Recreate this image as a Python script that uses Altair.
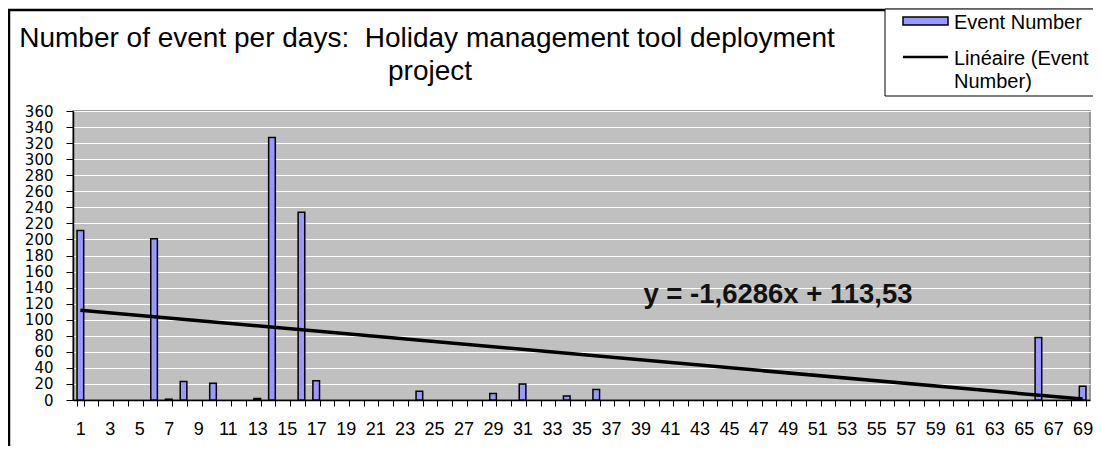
import altair as alt
import pandas as pd

# ---- data ----
days = list(range(1, 70))
events = [
    211, 0, 0, 0, 0, 201, 1, 23, 0, 21,
    0, 0, 2, 327, 0, 234, 24, 0, 0, 0,
    0, 0, 0, 11, 0, 0, 0, 0, 8, 0,
    20, 0, 0, 5, 0, 13, 0, 0, 0, 0,
    0, 0, 0, 0, 0, 0, 0, 0, 0, 0,
    0, 0, 0, 0, 0, 0, 0, 0, 0, 0,
    0, 0, 0, 0, 0, 78, 0, 0, 17,
]
trend_days = [1, 69]
trend_values = [111.9, 1.16]
y_ticks = [0, 20, 40, 60, 80, 100, 120, 140, 160, 180, 200, 220, 240, 260, 280, 300, 320, 340, 360]

title_line1 = "Number of event per days:\u00a0 Holiday management tool deployment"
title_line2 = "project"
equation = "y = -1,6286x + 113,53"
legend_bar = "Event\u00a0Number"
legend_line1 = "Linéaire (Event"
legend_line2 = "Number)"

FONT = "Liberation Sans"

bars_df = pd.DataFrame({"day": days, "events": events})
trend_df = pd.DataFrame({"day": trend_days, "value": trend_values})
one = pd.DataFrame({"k": [0]})

x_scale = alt.Scale(domain=days, paddingInner=0.55, paddingOuter=0.275)
y_scale = alt.Scale(domain=[0, 360], nice=False)

x_axis = alt.Axis(
    title=None, tickBand="extent", labelAngle=0, labelOverlap=False,
    labelExpr="datum.value % 2 == 1 ? datum.label : ''",
    labelFont=FONT, labelFontSize=18, labelColor="black", labelPadding=14,
    tickSize=6, tickColor="black", domainColor="black", domainWidth=1.5,
    grid=False,
)
y_axis = alt.Axis(
    title=None, values=y_ticks, labelOverlap=False, labelFont="DejaVu Sans",
    labelFontSize=15, labelColor="black", labelPadding=13, tickSize=7,
    tickColor="black", domainColor="black", domainWidth=1.5, grid=True,
    gridColor="white", gridWidth=1.2, labelBaseline="middle",
)

bars = alt.Chart(bars_df).transform_filter("datum.events > 0").mark_bar(
    fill="#9999ff", stroke="black", strokeWidth=1.5
).encode(
    x=alt.X("day:O", scale=x_scale, axis=x_axis),
    y=alt.Y("events:Q", scale=y_scale, axis=y_axis),
)

trend = alt.Chart(trend_df).mark_line(color="black", strokeWidth=3.5).encode(
    x=alt.X("day:O", scale=x_scale, axis=x_axis),
    y=alt.Y("value:Q", scale=y_scale, axis=y_axis),
)

eq_text = alt.Chart(one).mark_text(
    align="center", baseline="alphabetic", font=FONT, fontSize=27.5,
    fontWeight="bold", color="#111111"
).encode(x=alt.value(705), y=alt.value(192), text=alt.value(equation))

frame = alt.Chart(one).mark_rect(
    fill=None, fillOpacity=0, stroke="black", strokeWidth=2.5
).encode(x=alt.value(-64), x2=alt.value(1200), y=alt.value(-101), y2=alt.value(600))

legend_box = alt.Chart(one).mark_rect(
    fill="white", stroke="black", strokeWidth=1
).encode(x=alt.value(812), x2=alt.value(1200), y=alt.value(-102), y2=alt.value(-15))

legend_swatch = alt.Chart(one).mark_rect(
    fill="#9999ff", stroke="black", strokeWidth=1.5
).encode(x=alt.value(830), x2=alt.value(875), y=alt.value(-94), y2=alt.value(-86))

legend_rule = alt.Chart(one).mark_rule(color="black", strokeWidth=2.5).encode(
    x=alt.value(830), x2=alt.value(875), y=alt.value(-54)
)

def txt(s, x, y, size, align="left"):
    return alt.Chart(one).mark_text(
        align=align, baseline="alphabetic", font=FONT, fontSize=size, color="black"
    ).encode(x=alt.value(x), y=alt.value(y), text=alt.value(s))

leg_t1 = txt(legend_bar, 881, -82, 20)
leg_t2 = txt(legend_line1, 881, -46, 20)
leg_t3 = txt(legend_line2, 881, -23, 20)
title1 = txt(title_line1, 354, -64, 28, align="center")
title2 = txt(title_line2, 357, -31, 28, align="center")

chart = alt.layer(
    bars, trend, eq_text, frame, legend_box, legend_swatch, legend_rule,
    leg_t1, leg_t2, leg_t3, title1, title2,
).properties(
    width=1017, height=289,
    autosize=alt.AutoSizeParams(type="none"),
    padding={"left": 65, "top": 103, "right": 3, "bottom": 46},
    background="white",
).configure_view(
    fill="#c0c0c0", stroke="#808080", strokeWidth=1.5
)

chart.save("out.html", embed_options={"renderer": "svg", "actions": False})
